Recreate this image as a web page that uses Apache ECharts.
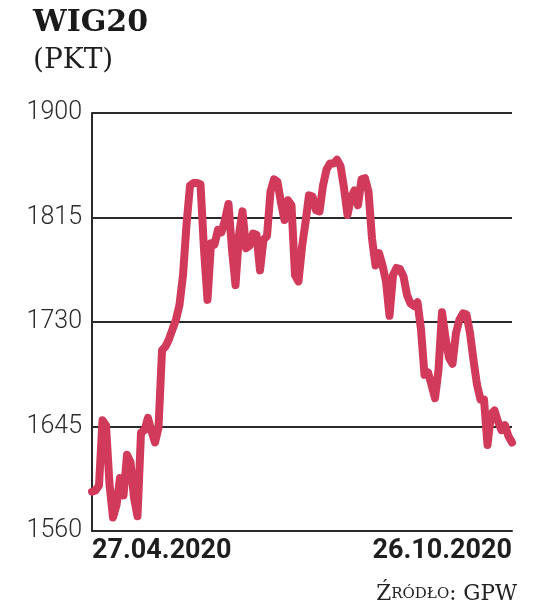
<!DOCTYPE html>
<html>
<head>
<meta charset="utf-8">
<title>WIG20</title>
<script src="https://cdn.jsdelivr.net/npm/echarts@6/dist/echarts.min.js"></script>
<style>
  html, body { margin: 0; padding: 0; background: #fff; }
  #main { width: 536px; height: 606px; }
</style>
</head>
<body>
<div id="main"></div>
<script>
// WIG20, sesje od 27.04.2020 do 26.10.2020
var wig20 = [
  1592, 1593, 1597, 1650, 1646, 1598, 1571, 1581, 1603, 1589,
  1622, 1616, 1587, 1572, 1640, 1642, 1652, 1641, 1632, 1644,
  1707, 1710, 1716, 1724, 1732, 1744, 1768, 1809, 1841, 1843,
  1843, 1842, 1789, 1748, 1794, 1793, 1805, 1803, 1813, 1826,
  1789, 1760, 1801, 1820, 1790, 1792, 1802, 1801, 1772, 1797,
  1800, 1836, 1846, 1844, 1827, 1813, 1829, 1825, 1768, 1763,
  1791, 1811, 1833, 1832, 1821, 1820, 1841, 1854, 1859, 1859,
  1862, 1857, 1839, 1817, 1831, 1837, 1825, 1846, 1847, 1836,
  1798, 1776, 1786, 1776, 1763, 1735, 1768, 1774, 1773, 1767,
  1752, 1745, 1743, 1746, 1724, 1687, 1689, 1679, 1668, 1691,
  1738, 1717, 1701, 1696, 1721, 1732, 1737, 1736, 1721, 1699,
  1679, 1667, 1667, 1630, 1655, 1658, 1649, 1642, 1646, 1637,
  1632
]
var xLabels = ['27.04.2020', '26.10.2020']
var yTicks = [1560, 1645, 1730, 1815, 1900]

var lastIdx = wig20.length - 1
var chart = echarts.init(document.getElementById('main'))

chart.setOption({
  backgroundColor: '#fff',
  animation: false,
  title: {
    text: 'WIG20',
    subtext: '(PKT)',
    left: 28,
    top: 3,
    itemGap: 9,
    textStyle: {
      fontFamily: 'DejaVu Serif',
      fontWeight: 'bold',
      fontSize: 30,
      color: '#1a1a1a'
    },
    subtextStyle: {
      fontFamily: 'DejaVu Serif',
      fontSize: 28,
      color: '#1e1e1e'
    }
  },
  graphic: [
    {
      type: 'text',
      right: 19,
      top: 583,
      style: {
        text: '{a|Ź}{b|RÓDŁO}{a|: GPW}',
        rich: {
          a: { fontFamily: 'DejaVu Serif', fontSize: 21.5, fill: '#222' },
          b: { fontFamily: 'DejaVu Serif', fontSize: 15, fill: '#222' }
        }
      }
    }
  ],
  grid: {
    left: 92,
    right: 24,
    top: 113,
    bottom: 75
  },
  xAxis: {
    type: 'value',
    min: 0,
    max: lastIdx,
    interval: lastIdx,
    axisLine: { show: true, lineStyle: { color: '#2a2a2a', width: 2 } },
    axisTick: { show: false },
    splitLine: { show: false },
    axisLabel: {
      margin: 7,
      alignMinLabel: 'left',
      alignMaxLabel: 'right',
      fontFamily: 'Roboto',
      fontWeight: 'bold',
      fontSize: 27,
      color: '#1e1e1e',
      formatter: function (v) {
        return v === 0 ? xLabels[0] : xLabels[1]
      }
    }
  },
  yAxis: {
    type: 'value',
    min: 1560,
    max: 1900,
    axisLine: { show: true, lineStyle: { color: '#2a2a2a', width: 2 } },
    axisTick: { show: false, customValues: yTicks },
    splitLine: { show: true, lineStyle: { color: '#2a2a2a', width: 2 } },
    axisLabel: {
      customValues: yTicks,
      margin: 10,
      fontFamily: 'Roboto',
      fontWeight: 300,
      fontSize: 25,
      color: '#2a2a2a',
      formatter: function (v) { return String(v) }
    }
  },
  series: [
    {
      type: 'line',
      data: wig20.map(function (v, i) { return [i, v] }),
      showSymbol: false,
      symbol: 'none',
      smooth: false,
      z: 3,
      lineStyle: {
        color: '#d23a5b',
        width: 8,
        cap: 'round',
        join: 'round'
      }
    }
  ]
})
</script>
</body>
</html>
